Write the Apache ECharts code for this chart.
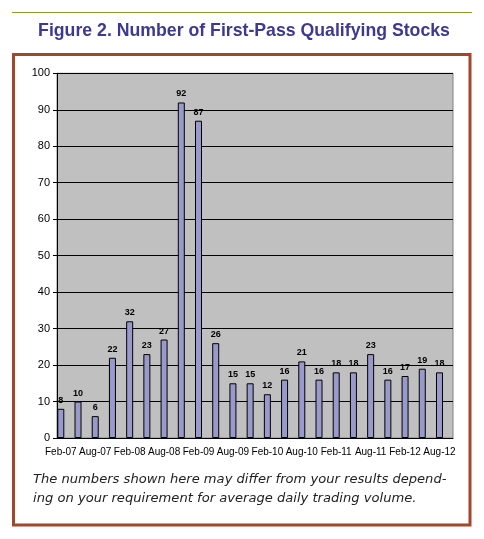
<!DOCTYPE html>
<html>
<head>
<meta charset="utf-8">
<script src="https://cdn.jsdelivr.net/npm/echarts@6/dist/echarts.min.js"></script>
<style>html,body{margin:0;padding:0;background:#fff;}#c{width:484px;height:539px;}</style>
</head>
<body>
<div id="c"></div>
<script>
const categories = ["Feb-07","May-07","Aug-07","Nov-07","Feb-08","May-08","Aug-08","Nov-08","Feb-09","May-09","Aug-09","Nov-09","Feb-10","May-10","Aug-10","Nov-10","Feb-11","May-11","Aug-11","Nov-11","Feb-12","May-12","Aug-12"];
const stockCounts = [8,10,6,22,32,23,27,92,87,26,15,15,12,16,21,16,18,18,23,16,17,19,18];
const yTicks = {min: 0, max: 100, interval: 10};
const titleText = "Figure 2. Number of First-Pass Qualifying Stocks";
const captionLines = ["The numbers shown here may differ from your results depend-", "ing on your requirement for average daily trading volume."];

const chart = echarts.init(document.getElementById('c'), null, {renderer: 'canvas'});
const sans = '"Liberation Sans", Arial, sans-serif';
chart.setOption({
  animation: false,
  backgroundColor: '#fff',
  title: {
    text: titleText, left: 239, top: 17, textAlign: 'center',
    textStyle: {fontFamily: sans, fontWeight: 'bold', fontSize: 17.7, color: '#3d3990'}
  },
  graphic: [
    {type: 'line', shape: {x1: 12, y1: 12.5, x2: 472, y2: 12.5}, style: {stroke: '#8c9a2c', lineWidth: 1}},
    {type: 'rect', shape: {x: 13.5, y: 54.5, width: 456.5, height: 470.5}, style: {fill: 'none', stroke: '#a2462c', lineWidth: 3}, z: -1},
    {type: 'text', left: 33, top: 473, style: {text: captionLines[0], font: 'italic 13.1px "DejaVu Sans", Verdana, sans-serif', fill: '#222'}},
    {type: 'text', left: 33, top: 492, style: {text: captionLines[1], font: 'italic 13.1px "DejaVu Sans", Verdana, sans-serif', fill: '#222'}}
  ],
  grid: [
    {left: 52.2, right: 35.9, top: 73.3, bottom: 101, containLabel: false},
    {left: 57, right: 31, top: 73.3, bottom: 101, show: true, backgroundColor: '#c0c0c0', borderColor: '#808080', borderWidth: 1, containLabel: false}
  ],
  xAxis: [
    {type: 'category', gridIndex: 0, data: categories,
     axisLine: {show: false}, axisTick: {show: false},
     axisLabel: {interval: 1, margin: 9, showMinLabel: true, showMaxLabel: true, hideOverlap: false, fontFamily: sans, fontSize: 10, color: '#000'}},
    {type: 'category', gridIndex: 1, data: categories,
     axisLine: {show: true, lineStyle: {color: '#000', width: 1}}, axisTick: {show: false}, axisLabel: {show: false}}
  ],
  yAxis: [
    {type: 'value', gridIndex: 0, min: yTicks.min, max: yTicks.max, interval: yTicks.interval, show: false, splitLine: {show: false}},
    {type: 'value', gridIndex: 1, min: yTicks.min, max: yTicks.max, interval: yTicks.interval,
     axisLine: {show: true, lineStyle: {color: '#000', width: 1}},
     axisTick: {show: true, length: 4, lineStyle: {color: '#000'}},
     axisLabel: {margin: 7, fontFamily: sans, fontSize: 11, color: '#000'},
     splitLine: {show: true, lineStyle: {color: '#000', width: 1}}}
  ],
  series: [{
    type: 'bar', xAxisIndex: 0, yAxisIndex: 0, data: stockCounts, barWidth: 7,
    itemStyle: {color: '#9999cc', borderColor: '#000', borderWidth: 1},
    label: {show: true, position: 'top', distance: 4, fontFamily: sans, fontSize: 9, fontWeight: 'bold', color: '#000'},
    z: 5
  }]
});
</script>
</body>
</html>
